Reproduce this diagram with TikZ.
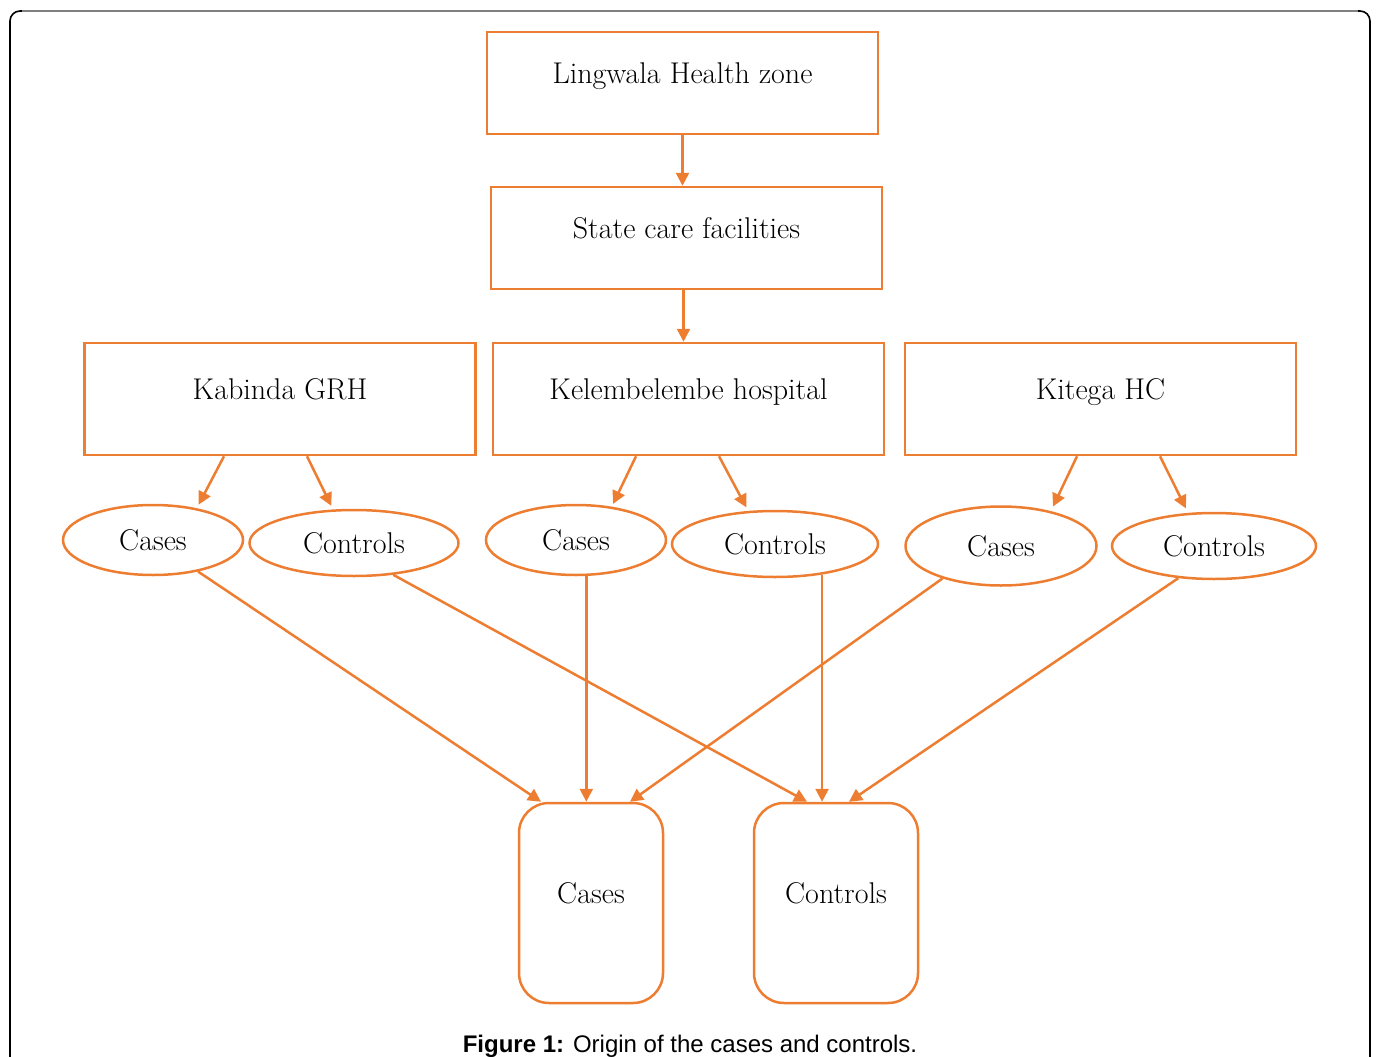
\documentclass[tikz,border=0pt]{standalone}
\usepackage{fontspec}
\newfontfamily\capfont{Liberation Sans}
\usetikzlibrary{shapes.geometric,arrows.meta,calc}
\definecolor{accent}{RGB}{237,125,49}

\begin{document}
\begin{tikzpicture}[x=1pt,y=-1pt,
    box/.style={draw=accent, line width=2.5pt, rectangle, minimum width=391pt, minimum height=102pt, inner sep=0pt, text height=20pt, text depth=20pt, font=\fontsize{30}{36}\selectfont},
    oval/.style={draw=accent, line width=2.5pt, ellipse, inner sep=0pt, font=\fontsize{30}{36}\selectfont},
    group/.style={draw=accent, line width=2.5pt, rectangle, rounded corners=30pt, minimum width=#1, minimum height=200pt, inner sep=0pt, text height=20pt, text depth=20pt, font=\fontsize{30}{36}\selectfont},
    arr/.style={draw=accent, line width=2.5pt, -{Triangle[length=13pt,width=13pt]}}]
    \useasboundingbox (0,0) rectangle (1376,1057);

    % Frame
    \draw[black, line width=1.6pt, rounded corners=10pt] (10,1090) -- (10,11) -- (1370,11) -- (1370,1090);
    \draw[gray, line width=1.6pt] (22,11) -- (1358,11);

    % Top
    \node[box] (lhz) at (682.5,83) {Lingwala Health zone};
    \node[box] (scf) at (686.5,238) {State care facilities};

    % Facilities
    \node[box, minimum height=112pt] (kab) at (280,399) {Kabinda GRH};
    \node[box, minimum height=112pt] (kel) at (688.5,399) {Kelembelembe hospital};
    \node[box, minimum height=112pt] (kit) at (1100.5,399) {Kitega HC};

    % Ovals
    \node[oval, minimum width=180pt, minimum height=70pt] (cas1) at (153,540) {Cases};
    \node[oval, minimum width=209pt, minimum height=66pt] (con1) at (354,543) {Controls};
    \node[oval, minimum width=180pt, minimum height=70pt] (cas2) at (576,540) {Cases};
    \node[oval, minimum width=206pt, minimum height=66pt] (con2) at (775,544) {Controls};
    \node[oval, minimum width=191pt, minimum height=79pt] (cas3) at (1001,546) {Cases};
    \node[oval, minimum width=204pt, minimum height=66pt] (con3) at (1214,546) {Controls};

    % Bottom
    \node[group=144pt] (fcas) at (591,903) {Cases};
    \node[group=164pt] (fcon) at (836,903) {Controls};

    % Caption
    \node[anchor=base, inner sep=0pt, font=\capfont\fontsize{24}{28}\selectfont] (cap) at (690,1052) {\textbf{Figure 1:} Origin of the cases and controls.};

    \draw[arr] (lhz.south) -- (lhz.south |- scf.north);
    \draw[arr] ($(scf.south)+(-3,0)$) -- ($(scf.south |- kel.north)+(-3,0)$);

    \draw[arr, shorten >=4pt] ($(kab.south)+(-56,0)$) -- (cas1.36);
    \draw[arr, shorten >=4pt] ($(kab.south)+(27,0)$) -- (con1.122);
    \draw[arr, shorten >=3pt] ($(kel.south)+(-52.5,0)$) -- (cas2.43);
    \draw[arr, shorten >=4pt] ($(kel.south)+(30.5,0)$) -- (con2.129);
    \draw[arr, shorten >=5pt] ($(kit.south)+(-23.5,0)$) -- (cas3.35);
    \draw[arr, shorten >=5pt] ($(kit.south)+(59.5,0)$) -- (con3.128);

    \draw[arr] (cas1.-35) -- ($(fcas.north)+(-50,0)$);
    \draw[arr] (con1.-39) -- ($(fcon.north)+(-29,0)$);
    \draw[arr] (cas2.-74) -- (cas2.-74 |- fcas.north);
    \draw[arr] (con2.-33) -- (con2.-33 |- fcon.north);
    \draw[arr] (cas3.209) -- ($(fcas.north)+(39,0)$);
    \draw[arr] (con3.222) -- ($(fcon.north)+(13,0)$);

\end{tikzpicture}
\end{document}
